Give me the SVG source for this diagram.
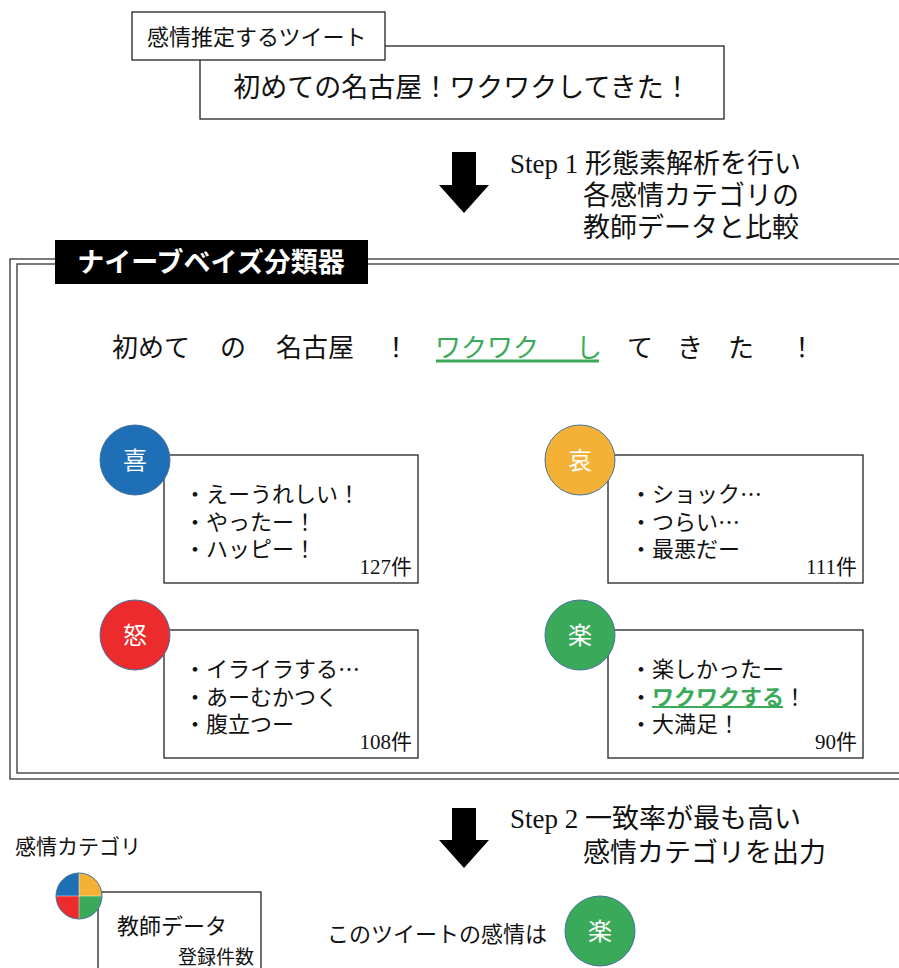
<svg xmlns="http://www.w3.org/2000/svg" width="899" height="968" viewBox="0 0 899 968">
<style>
text{font-family:"Liberation Serif","Noto Sans CJK JP",serif;fill:#111}
.box{fill:#fff;stroke:#222;stroke-width:1.3}
.frame{fill:none;stroke:#333;stroke-width:1.3}
.emo{stroke:#41719C;stroke-width:1}
.emotxt{fill:#fff;font-size:24px;text-anchor:middle}
.b{font-size:22px}
.cnt{font-size:21px;text-anchor:end}
.step{font-size:27px}
.tok{font-size:26px;text-anchor:middle}
.jp{font-family:"Noto Sans CJK JP",sans-serif}
</style>
<rect width="899" height="968" fill="#fff"/>

<g id="tweet">
  <rect class="box" x="200" y="46" width="524" height="73"/>
  <text x="462" y="97" font-size="27" text-anchor="middle">初めての名古屋！ワクワクしてきた！</text>
</g>
<g id="tweet-label">
  <rect class="box" x="132" y="12" width="253" height="48"/>
  <text x="147" y="45" font-size="22">感情推定するツイート</text>
</g>

<g id="connectors">
  <polygon points="452,152 476,152 476,185 489,185 464,213 439,185 452,185" fill="#000"/>
  <polygon points="452,808 476,808 476,840 489,840 464,868 439,840 452,840" fill="#000"/>
</g>

<g id="step1">
  <text class="step" x="510" y="173">Step 1 形態素解析を行い</text>
  <text class="step" x="583" y="205">各感情カテゴリの</text>
  <text class="step" x="583" y="237">教師データと比較</text>
</g>

<g id="classifier">
  <rect class="frame" x="10" y="259" width="905" height="520"/>
  <rect class="frame" x="17" y="264" width="900" height="509"/>
  <rect x="55" y="240" width="313" height="44" fill="#000"/>
  <text x="211" y="272" font-size="27" font-weight="bold" text-anchor="middle" style="fill:#fff">ナイーブベイズ分類器</text>
</g>

<g id="tokens">
  <text class="tok" x="151" y="357">初めて</text>
  <text class="tok" x="233" y="357">の</text>
  <text class="tok" x="315" y="357">名古屋</text>
  <text class="tok" x="396" y="357">！</text>
  <text class="tok" x="487" y="357" style="fill:#3AAA5A">ワクワク</text>
  <text class="tok" x="589" y="357" style="fill:#3AAA5A">し</text>
  <text class="tok" x="640" y="357">て</text>
  <text class="tok" x="690" y="357">き</text>
  <text class="tok" x="741" y="357">た</text>
  <text class="tok" x="802" y="357">！</text>
  <line x1="436" y1="361" x2="599" y2="361" stroke="#3AAA5A" stroke-width="3"/>
</g>

<g id="joy">
  <rect class="box" x="164" y="455" width="254" height="128"/>
  <circle class="emo" cx="135" cy="460" r="35" fill="#1F6FB6"/>
  <text class="emotxt" x="135" y="469">喜</text>
  <text class="b" x="184" y="502">・えーうれしい！</text>
  <text class="b" x="184" y="530">・やったー！</text>
  <text class="b" x="184" y="557">・ハッピー！</text>
  <text class="cnt" x="412" y="574">127件</text>
</g>

<g id="sorrow">
  <rect class="box" x="608" y="455" width="255" height="128"/>
  <circle class="emo" cx="580" cy="460" r="35" fill="#F4B135"/>
  <text class="emotxt" x="580" y="469">哀</text>
  <text class="b" x="630" y="502">・ショック<tspan class="jp">…</tspan></text>
  <text class="b" x="630" y="530">・つらい<tspan class="jp">…</tspan></text>
  <text class="b" x="630" y="557">・最悪だー</text>
  <text class="cnt" x="857" y="574">111件</text>
</g>

<g id="anger">
  <rect class="box" x="164" y="630" width="254" height="128"/>
  <circle class="emo" cx="135" cy="635" r="35" fill="#EC2B2D"/>
  <text class="emotxt" x="135" y="644">怒</text>
  <text class="b" x="184" y="677">・イライラする<tspan class="jp">…</tspan></text>
  <text class="b" x="184" y="705">・あーむかつく</text>
  <text class="b" x="184" y="732">・腹立つー</text>
  <text class="cnt" x="412" y="749">108件</text>
</g>

<g id="pleasure">
  <rect class="box" x="608" y="630" width="255" height="128"/>
  <circle class="emo" cx="580" cy="635" r="35" fill="#3AAA5A"/>
  <text class="emotxt" x="580" y="644">楽</text>
  <text class="b" x="630" y="677">・楽しかったー</text>
  <text class="b" x="630" y="705">・<tspan style="fill:#3AAA5A" font-weight="bold">ワクワクする</tspan>！</text>
  <line x1="652" y1="707" x2="783" y2="707" stroke="#3AAA5A" stroke-width="2"/>
  <text class="b" x="630" y="732">・大満足！</text>
  <text class="cnt" x="857" y="749">90件</text>
</g>

<g id="step2">
  <text class="step" x="510" y="828">Step 2 一致率が最も高い</text>
  <text class="step" x="583" y="862">感情カテゴリを出力</text>
</g>

<g id="legend">
  <text x="15" y="854" font-size="21">感情カテゴリ</text>
  <rect class="box" x="98" y="892" width="163" height="90"/>
  <path d="M79,896 L79,873 A23,23 0 0 0 56,896 Z" fill="#1F6FB6"/>
  <path d="M79,896 L102,896 A23,23 0 0 0 79,873 Z" fill="#F4B135"/>
  <path d="M79,896 L56,896 A23,23 0 0 0 79,919 Z" fill="#EC2B2D"/>
  <path d="M79,896 L79,919 A23,23 0 0 0 102,896 Z" fill="#3AAA5A"/>
  <line x1="79" y1="873" x2="79" y2="919" stroke="#fff" stroke-width="0.8" opacity="0.6"/>
  <line x1="56" y1="896" x2="102" y2="896" stroke="#fff" stroke-width="0.8" opacity="0.6"/>
  <circle cx="79" cy="896" r="23" fill="none" stroke="#41719C" stroke-width="1"/>
  <text x="117" y="934" font-size="22">教師データ</text>
  <text x="254" y="964" font-size="19" text-anchor="end">登録件数</text>
</g>

<g id="result">
  <text x="327" y="942" font-size="22">このツイートの感情は</text>
  <circle class="emo" cx="600" cy="931" r="35" fill="#3AAA5A"/>
  <text class="emotxt" x="600" y="940" font-size="26">楽</text>
</g>
</svg>
